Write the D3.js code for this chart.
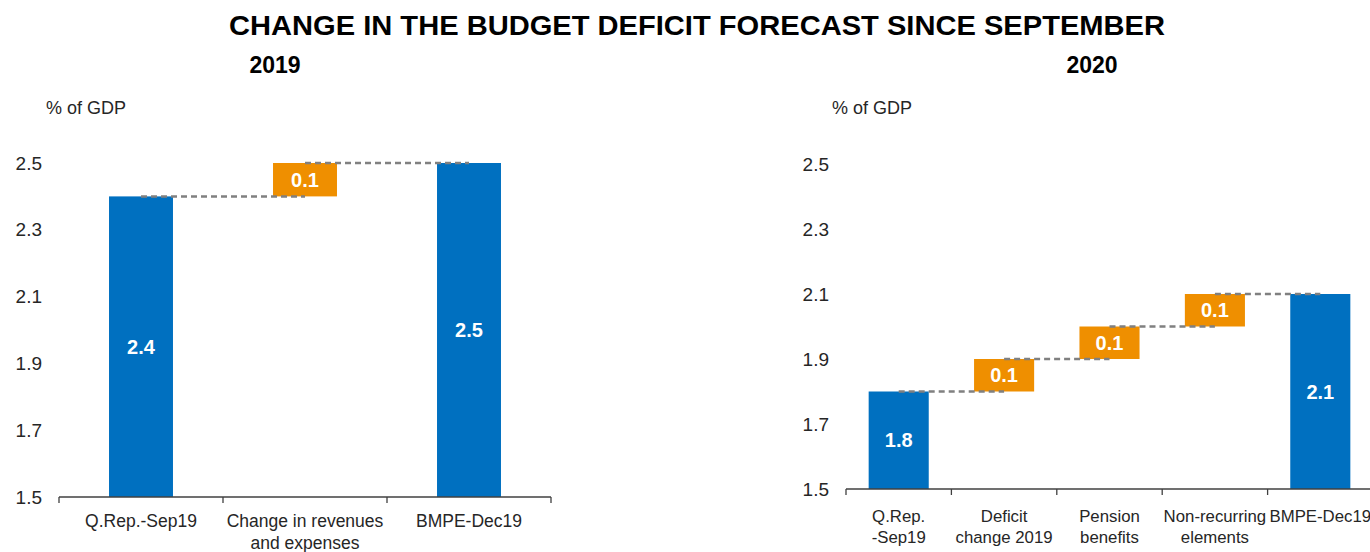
<!DOCTYPE html>
<html>
<head>
<meta charset="utf-8">
<script src="https://cdn.jsdelivr.net/npm/d3@7/dist/d3.min.js"></script>
<style>
  html, body { margin: 0; padding: 0; background: #fff; }
  svg { display: block; font-family: "Liberation Sans", Arial, Helvetica, sans-serif; }
</style>
</head>
<body>
<svg id="chart" width="1370" height="552"></svg>
<script>
// ---- data ----
const title = "CHANGE IN THE BUDGET DEFICIT FORECAST SINCE SEPTEMBER";
const unitLabel = "% of GDP";
const yTicks = [1.5, 1.7, 1.9, 2.1, 2.3, 2.5];

const year2019 = "2019";
const categories2019 = [["Q.Rep.-Sep19"], ["Change in revenues", "and expenses"], ["BMPE-Dec19"]];
const values2019 = [2.4, 0.1, 2.5];
const kinds2019 = ["total", "delta", "total"];

const year2020 = "2020";
const categories2020 = [["Q.Rep.", "-Sep19"], ["Deficit", "change 2019"], ["Pension", "benefits"], ["Non-recurring", "elements"], ["BMPE-Dec19"]];
const values2020 = [1.8, 0.1, 0.1, 0.1, 2.1];
const kinds2020 = ["total", "delta", "delta", "delta", "total"];

// ---- styles ----
const BLUE = "#0070C0";
const ORANGE = "#EF8F00";
const TEXT = "#262626";

const svg = d3.select("#chart");

svg.append("text")
  .attr("x", 697).attr("y", 35)
  .attr("text-anchor", "middle")
  .attr("font-size", 28).attr("font-weight", "bold")
  .attr("fill", "#000")
  .attr("textLength", 936).attr("lengthAdjust", "spacingAndGlyphs")
  .text(title);

function waterfall(opts) {
  const { cats, vals, kinds, x0, x1, yBottom, yTop, barRatio, year, yearX, unitX, labelSize, lineGap, firstBaseline } = opts;
  const g = svg.append("g");
  const keys = cats.map((d, i) => i);

  const x = d3.scaleBand().domain(keys).range([x0, x1]).padding(0);
  const y = d3.scaleLinear().domain([1.5, 2.5]).range([yBottom, yTop]);
  const bw = x.bandwidth() * barRatio;

  // running level for waterfall segments
  let level = 0;
  const segs = vals.map((v, i) => {
    let lo, hi;
    if (kinds[i] === "total") { lo = 1.5; hi = v; level = v; }
    else { lo = level; hi = level + v; level = hi; }
    return { i, v, lo, hi, kind: kinds[i], end: level };
  });

  // y axis (labels only)
  const yAxis = d3.axisLeft(y).tickValues(yTicks).tickFormat(d3.format(".1f")).tickSize(0).tickPadding(17);
  const ya = g.append("g").attr("transform", `translate(${x0},0)`).call(yAxis);
  ya.select(".domain").remove();
  ya.selectAll("text").attr("font-size", 19).attr("fill", TEXT)
    .attr("font-family", "'Liberation Sans', Arial, sans-serif");

  // unit label and year
  g.append("text").attr("x", unitX).attr("y", 114)
    .attr("font-size", 18).attr("fill", TEXT).text(unitLabel);
  g.append("text").attr("x", yearX).attr("y", 73).attr("text-anchor", "middle")
    .attr("font-size", 23).attr("font-weight", "bold").attr("fill", "#000").text(year);

  // bars
  g.selectAll("rect.bar").data(segs).join("rect")
    .attr("class", "bar")
    .attr("x", d => x(d.i) + (x.bandwidth() - bw) / 2)
    .attr("width", bw)
    .attr("y", d => y(d.hi))
    .attr("height", d => y(d.lo) - y(d.hi))
    .attr("fill", d => d.kind === "total" ? BLUE : ORANGE);

  // dashed connectors between consecutive bars
  const links = segs.slice(0, -1).map((d, k) => ({ from: d.i, to: segs[k + 1].i, lvl: d.end }));
  g.selectAll("line.link").data(links).join("line")
    .attr("class", "link")
    .attr("x1", d => x(d.from) + x.bandwidth() / 2)
    .attr("x2", d => x(d.to) + x.bandwidth() / 2)
    .attr("y1", d => y(d.lvl)).attr("y2", d => y(d.lvl))
    .attr("stroke", "#808080").attr("stroke-width", 2.5)
    .attr("stroke-dasharray", "6,4");

  // value labels
  g.selectAll("text.val").data(segs).join("text")
    .attr("class", "val")
    .attr("x", d => x(d.i) + x.bandwidth() / 2)
    .attr("y", d => (y(d.lo) + y(d.hi)) / 2 + 7)
    .attr("text-anchor", "middle")
    .attr("font-size", 20).attr("font-weight", "bold").attr("fill", "#fff")
    .text(d => d3.format(".1f")(d.v));

  // x axis line with boundary ticks
  const xa = g.append("g").attr("transform", `translate(0,${yBottom})`);
  xa.append("line").attr("x1", x0).attr("x2", x1).attr("stroke", "#404040").attr("stroke-width", 1.3);
  const bounds = keys.map(k => x(k)).concat([x1]);
  xa.selectAll("line.tick").data(bounds).join("line")
    .attr("class", "tick")
    .attr("x1", d => d).attr("x2", d => d)
    .attr("y1", 0).attr("y2", 6)
    .attr("stroke", "#404040").attr("stroke-width", 1.3);

  // category labels
  const lbl = g.selectAll("text.cat").data(cats).join("text")
    .attr("class", "cat")
    .attr("text-anchor", "middle")
    .attr("font-size", labelSize).attr("fill", TEXT);
  lbl.each(function (lines, i) {
    const t = d3.select(this);
    lines.forEach((s, j) => {
      t.append("tspan")
        .attr("x", x(i) + x.bandwidth() / 2)
        .attr("y", firstBaseline + j * lineGap)
        .text(s);
    });
  });
}

waterfall({
  cats: categories2019, vals: values2019, kinds: kinds2019,
  x0: 59, x1: 551, yBottom: 497, yTop: 163, barRatio: 0.39,
  year: year2019, yearX: 275, unitX: 46,
  labelSize: 17.5, lineGap: 22, firstBaseline: 527
});

waterfall({
  cats: categories2020, vals: values2020, kinds: kinds2020,
  x0: 846, x1: 1373, yBottom: 489, yTop: 164, barRatio: 0.57,
  year: year2020, yearX: 1092, unitX: 832,
  labelSize: 16.8, lineGap: 21, firstBaseline: 522
});
</script>
</body>
</html>
